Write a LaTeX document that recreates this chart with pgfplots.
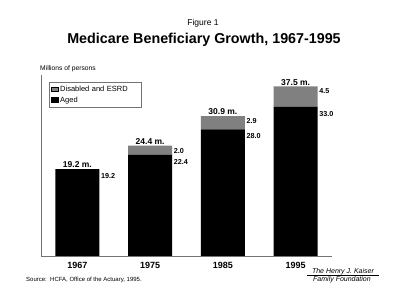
\documentclass[border=0pt]{standalone}
\usepackage{pgfplots}
\usepackage{pgfplotstable}
\pgfplotsset{compat=1.18}
\usepackage{fontspec}
\setmainfont{Liberation Sans}

\definecolor{disgray}{gray}{0.50}
\definecolor{axisgray}{gray}{0.45}

% Medicare beneficiaries, millions of persons
\pgfplotstableread{
x aged dis total agedlab dislab totlab
0 19.2 0.0 19.2 19.2 {} {19.2 m.}
1 22.4 2.0 24.4 22.4 2.0 {24.4 m.}
2 28.0 2.9 30.9 28.0 2.9 {30.9 m.}
3 33.0 4.5 37.5 33.0 4.5 {37.5 m.}
}\benef

% shared geometry of the bar axis and the label overlay
\pgfplotsset{benefgeom/.style={
  at={(41pt,49pt)}, anchor=south west,
  scale only axis, width=291pt, height=181pt,
  xmin=-0.5, xmax=3.5, ymin=0, ymax=40,
  clip=false,
}}

\begin{document}
\begin{tikzpicture}
\useasboundingbox (0pt,0pt) rectangle (400pt,305pt);

\node[font=\fontsize{8.5}{10}\selectfont] at (203pt,282pt) {Figure 1};
\node[font=\fontsize{14.3}{16}\selectfont\bfseries] at (204pt,265pt) {Medicare Beneficiary Growth, 1967-1995};
\node[anchor=west, font=\fontsize{6.7}{8}\selectfont, inner sep=0pt] at (40pt,236pt) {Millions of persons};

\begin{axis}[
  benefgeom,
  ybar stacked, bar width=44pt,
  axis x line=bottom, axis y line=left,
  axis line style={-, draw=axisgray, line width=0.9pt},
  ytick=\empty,
  xtick=data, xticklabels={1967,1975,1985,1995},
  major tick length=0pt,
  xticklabel style={font=\fontsize{9}{10}\selectfont\bfseries, yshift=-3pt},
  reverse legend,
  legend style={at={(0.0275,0.961)}, anchor=north west,
    draw=axisgray, line width=0.6pt,
    font=\fontsize{7.5}{9}\selectfont,
    inner xsep=1.5pt, inner ysep=1.5pt, row sep=0pt,
    text width=78pt},
  legend cell align=left,
  legend image code/.code={\draw[#1, draw=black, line width=0.4pt] (0pt,-2.2pt) rectangle (7pt,2.6pt);},
]
\addplot[fill=black, draw=none] table[x=x, y=aged] {\benef};
\addlegendentry{Aged}
\addplot[fill=disgray, draw=none] table[x=x, y=dis] {\benef};
\addlegendentry{Disabled and ESRD}
\end{axis}

% value labels, placed at the segment tops
\begin{axis}[
  benefgeom, hide axis,
  point meta=explicit symbolic,
  nodes near coords,
]
\addplot[draw=none, mark=none,
  every node near coord/.append style={anchor=west, xshift=23pt, yshift=-7pt,
    font=\fontsize{7.2}{8}\selectfont\bfseries, inner sep=0.5pt}]
  table[x=x, y=aged, meta=agedlab] {\benef};
\addplot[draw=none, mark=none,
  every node near coord/.append style={anchor=west, xshift=23pt, yshift=-5pt,
    font=\fontsize{7.2}{8}\selectfont\bfseries, inner sep=0.5pt}]
  table[x=x, y=total, meta=dislab] {\benef};
\addplot[draw=none, mark=none,
  every node near coord/.append style={anchor=south, yshift=0.5pt,
    font=\fontsize{8.5}{9}\selectfont\bfseries, inner sep=0.5pt}]
  table[x=x, y=total, meta=totlab] {\benef};
\end{axis}

\node[anchor=west, font=\fontsize{6}{7}\selectfont, inner sep=0pt] at (26pt,25pt) {Source:\ \ HCFA, Office of the Actuary, 1995.};
\node[font=\fontsize{7}{8}\selectfont\itshape, inner sep=0pt] at (343pt,33.5pt) {The Henry J. Kaiser};
\draw[line width=0.4pt] (307pt,29.5pt) -- (379pt,29.5pt);
\node[font=\fontsize{7}{8}\selectfont\itshape, inner sep=0pt] at (342pt,25pt) {Family Foundation};
\end{tikzpicture}
\end{document}
